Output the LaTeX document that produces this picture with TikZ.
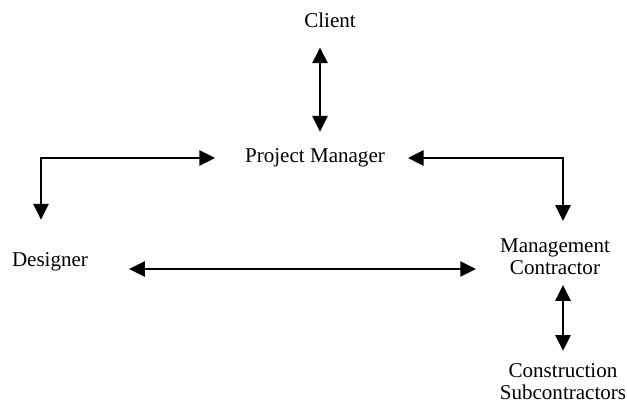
\documentclass[tikz,border=0pt]{standalone}
\usepackage{fontspec}
\setmainfont{Liberation Serif}
\usepackage{tikz}
\usetikzlibrary{calc, positioning, arrows.meta}
\tikzset{
	>={Triangle[length=9pt, width=8.5pt]},
	font = \fontsize{12}{12.6}\selectfont,
	party/.style={
		inner sep=0pt,
		outer sep=0pt,
		align=center
	},
	link/.style={
		<->,
		line width=1.6pt
	}
}

\begin{document}
\begin{tikzpicture}[x=0.57pt, y=-0.57pt]
		\useasboundingbox (0,0) rectangle (627,403);

		\node[party] (client) at (330,20) {Client};
		\node[party] (pm) at (315,158) {Project Manager};
		\node[party] (designer) at (50,262) {Designer};
		\node[party] (mc) at (555,257) {Management\\Contractor};
		\node[party] (sub) at (563,382) {Construction\\Subcontractors};

		\draw[link] ($(client.south)+(-10,20)$) to ($(pm.north)+(5,-17)$);
		\draw[link] ($(pm.west)+(-30,0)$) -| ($(designer.north)+(-9,-33)$);
		\draw[link] ($(pm.east)+(23,0)$) -| ($(mc.north)+(8,-18)$);
		\draw[link] ($(designer.east)+(41,7)$) to ($(mc.west)+(-24,12)$);
		\draw[link] ($(mc.south)+(8,10)$) to ($(sub.north)+(0,-13)$);
	\end{tikzpicture}
\end{document}
